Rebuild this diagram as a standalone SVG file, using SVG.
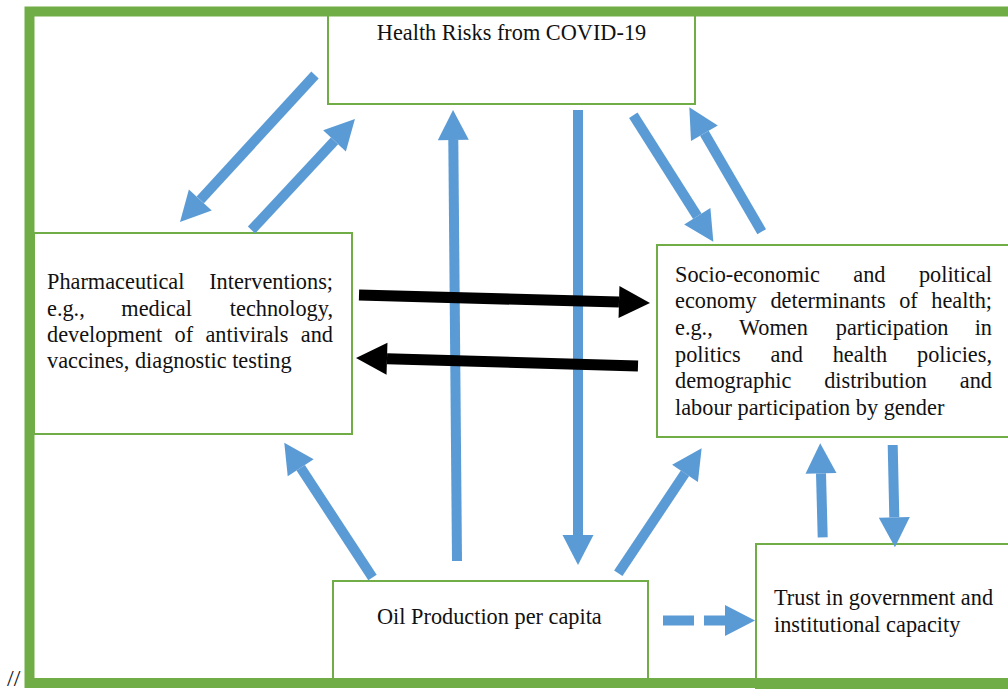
<svg xmlns="http://www.w3.org/2000/svg" width="1008" height="689" viewBox="0 0 1008 689">
<style>
.box{fill:#fff;stroke:#70AD47;stroke-width:2}
.frame{fill:none;stroke:#70AD47;stroke-width:10}
.t{font-family:"Liberation Serif","Times New Roman",serif;font-size:22.3px;fill:#111}
.e{text-anchor:end}
.b{stroke:#5B9BD5;stroke-width:10;fill:none;marker-end:url(#hb)}
.k{stroke:#000;stroke-width:11;fill:none;marker-end:url(#hk)}
</style>
<defs>
<marker id="hb" markerUnits="userSpaceOnUse" viewBox="0 -16 30 32" refX="0" refY="0" markerWidth="30" markerHeight="32" orient="auto" overflow="visible">
<path d="M0,-15.5 L30,0 L0,15.5 Z" fill="#5B9BD5"/>
</marker>
<marker id="hk" markerUnits="userSpaceOnUse" viewBox="0 -16 31 32" refX="0" refY="0" markerWidth="31" markerHeight="32" orient="auto" overflow="visible">
<path d="M0,-16 L31,0 L0,16 Z" fill="#000"/>
</marker>
</defs>
<rect x="0" y="0" width="1008" height="689" fill="#fff"/>

<g id="node-health">
<rect class="box" x="328" y="10" width="367" height="94"/>
<text class="t" x="511.5" y="40" text-anchor="middle">Health Risks from COVID-19</text>
</g>

<g id="node-pharma">
<rect class="box" x="34" y="233" width="318" height="201"/>
<text class="t" x="47" y="289">Pharmaceutical</text>
<text class="t e" x="333" y="289">Interventions;</text>
<text class="t" x="47" y="316">e.g.,</text>
<text class="t" x="121.3" y="316">medical</text>
<text class="t e" x="333" y="316">technology,</text>
<text class="t" x="47" y="342">development</text>
<text class="t" x="174.5" y="342">of</text>
<text class="t" x="205.4" y="342">antivirals</text>
<text class="t e" x="333" y="342">and</text>
<text class="t" x="47" y="368">vaccines, diagnostic testing</text>
</g>

<g id="node-socio">
<rect class="box" x="657" y="245" width="362" height="192"/>
<text class="t" x="675" y="282">Socio-economic</text>
<text class="t" x="853.3" y="282">and</text>
<text class="t e" x="992" y="282">political</text>
<text class="t" x="675" y="308">economy</text>
<text class="t" x="770.4" y="308">determinants</text>
<text class="t" x="899.2" y="308">of</text>
<text class="t e" x="992" y="308">health;</text>
<text class="t" x="675" y="335">e.g.,</text>
<text class="t" x="739" y="335">Women</text>
<text class="t" x="835.8" y="335">participation</text>
<text class="t e" x="992" y="335">in</text>
<text class="t" x="675" y="362">politics</text>
<text class="t" x="770.6" y="362">and</text>
<text class="t" x="832.7" y="362">health</text>
<text class="t e" x="992" y="362">policies,</text>
<text class="t" x="675" y="388">demographic</text>
<text class="t" x="824.2" y="388">distribution</text>
<text class="t e" x="992" y="388">and</text>
<text class="t" x="675" y="415">labour participation by gender</text>
</g>

<g id="node-oil">
<rect class="box" x="333" y="581" width="315" height="104"/>
<text class="t" x="377" y="624">Oil Production per capita</text>
</g>

<g id="node-trust">
<rect class="box" x="756" y="544" width="262" height="144"/>
<text class="t" x="774" y="605">Trust in government and</text>
<text class="t" x="774" y="632">institutional capacity</text>
</g>

<g id="connectors">
<line class="b" x1="315" y1="75" x2="200.3" y2="199.9"/>
<line class="b" x1="251.5" y1="230" x2="334.5" y2="140.9"/>
<line class="b" x1="633.3" y1="115.3" x2="697.3" y2="216.3"/>
<line class="b" x1="761.7" y1="231.7" x2="704.4" y2="133.2"/>
<line class="b" x1="457" y1="561" x2="453.3" y2="140"/>
<line class="b" x1="578" y1="110" x2="578" y2="535"/>
<line class="b" x1="372.5" y1="577.5" x2="300.7" y2="467.8"/>
<line class="b" x1="618.3" y1="573.3" x2="685" y2="473.3"/>
<line class="b" x1="822.7" y1="537.3" x2="821" y2="473.3"/>
<line class="b" x1="892.7" y1="445" x2="894.3" y2="517.3"/>
<line class="b" x1="663" y1="620.5" x2="725" y2="620.5" stroke-dasharray="31 10"/>
<line class="k" x1="359" y1="295" x2="619" y2="302.1"/>
<line class="k" x1="638" y1="366" x2="387" y2="358.8"/>
</g>

<rect class="frame" x="29.5" y="11.5" width="1000" height="671.5"/>
<text class="t" x="7" y="686" style="font-size:24px">//</text>
</svg>
